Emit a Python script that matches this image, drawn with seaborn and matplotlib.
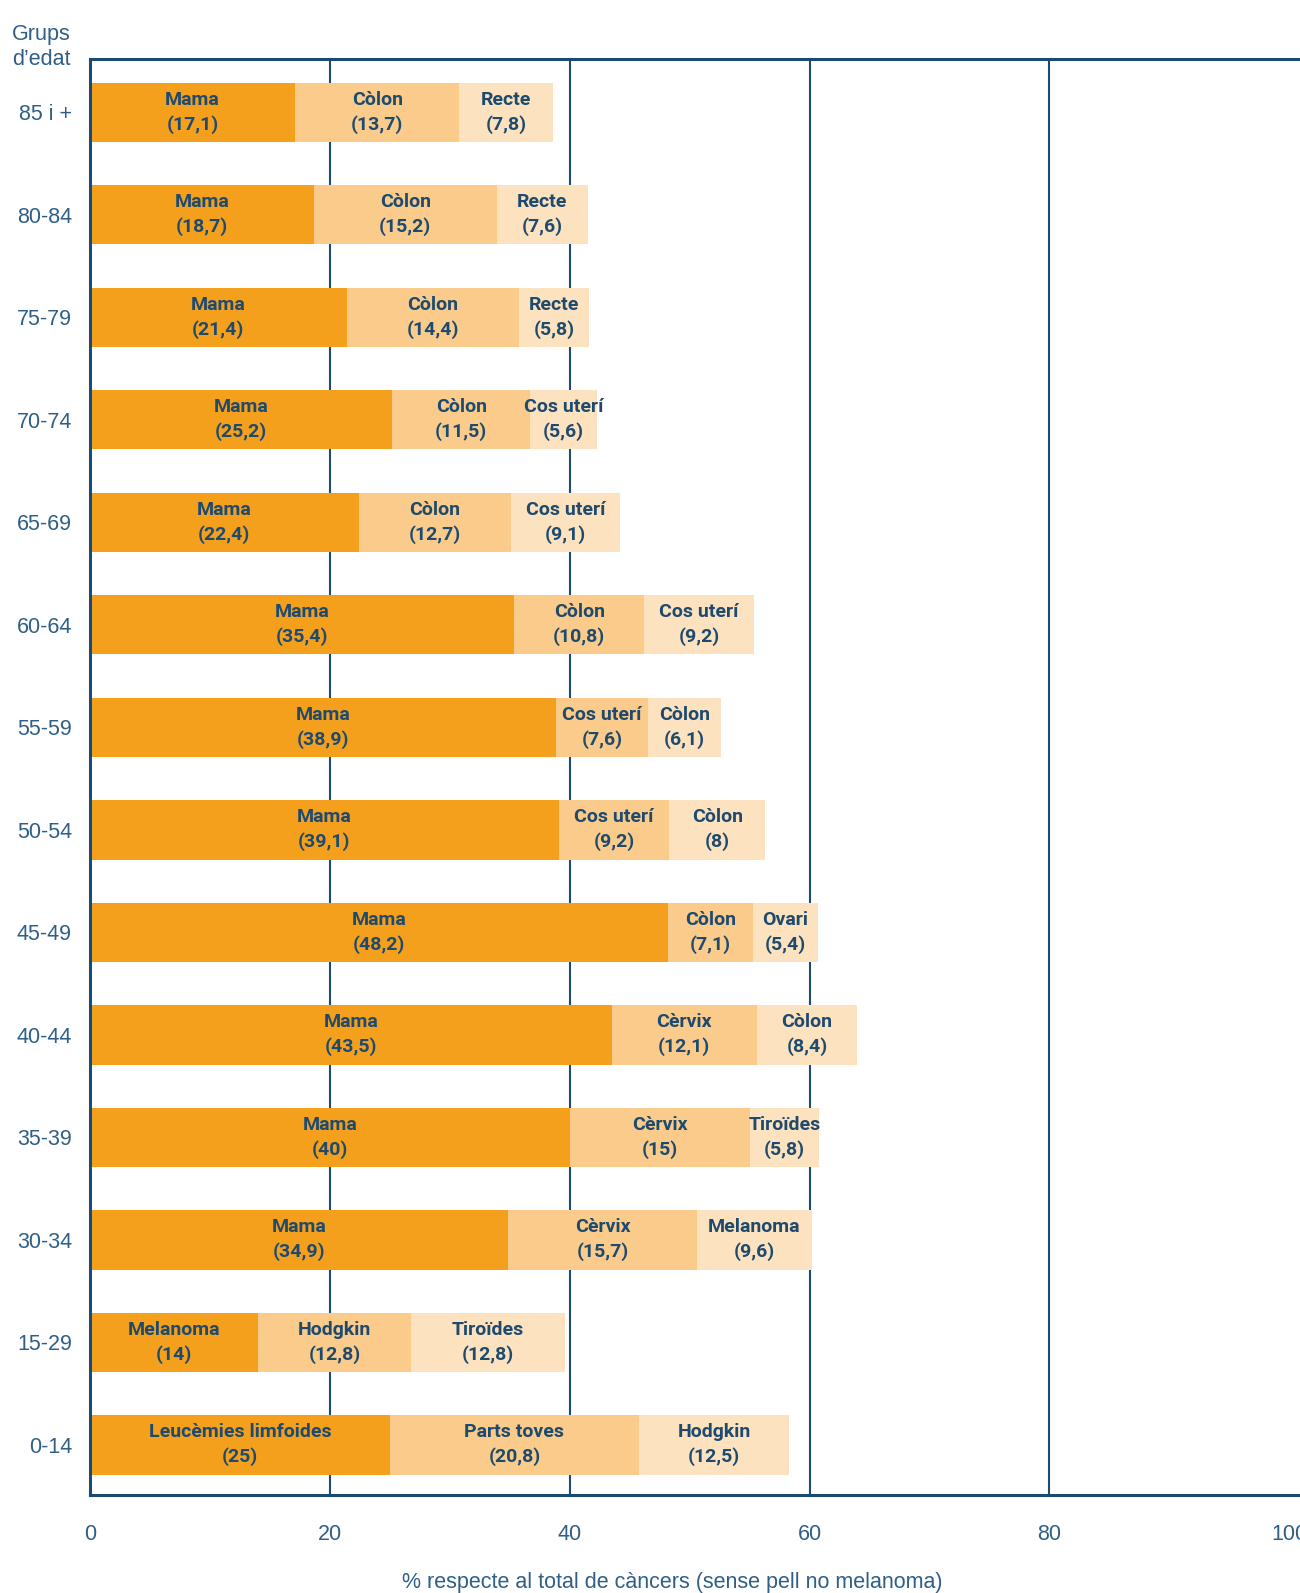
import numpy as np
import pandas as pd
import matplotlib
matplotlib.use('Agg')
import matplotlib.pyplot as plt
import seaborn as sns

# Age groups (top to bottom) and the three most frequent cancers per group
groups = ['85 i +', '80-84', '75-79', '70-74', '65-69', '60-64', '55-59',
          '50-54', '45-49', '40-44', '35-39', '30-34', '15-29', '0-14']

first_names = ['Mama', 'Mama', 'Mama', 'Mama', 'Mama', 'Mama', 'Mama',
               'Mama', 'Mama', 'Mama', 'Mama', 'Mama', 'Melanoma', 'Leucèmies limfoides']
first_vals = [17.1, 18.7, 21.4, 25.2, 22.4, 35.4, 38.9, 39.1, 48.2, 43.5, 40, 34.9, 14, 25]

second_names = ['Còlon', 'Còlon', 'Còlon', 'Còlon', 'Còlon', 'Còlon', 'Cos uterí',
                'Cos uterí', 'Còlon', 'Cèrvix', 'Cèrvix', 'Cèrvix', 'Hodgkin', 'Parts toves']
second_vals = [13.7, 15.2, 14.4, 11.5, 12.7, 10.8, 7.6, 9.2, 7.1, 12.1, 15, 15.7, 12.8, 20.8]

third_names = ['Recte', 'Recte', 'Recte', 'Cos uterí', 'Cos uterí', 'Cos uterí', 'Còlon',
               'Còlon', 'Ovari', 'Còlon', 'Tiroïdes', 'Melanoma', 'Tiroïdes', 'Hodgkin']
third_vals = [7.8, 7.6, 5.8, 5.6, 9.1, 9.2, 6.1, 8, 5.4, 8.4, 5.8, 9.6, 12.8, 12.5]

x_ticks = [0, 20, 40, 60, 80, 100]

# Colours
c1, c2, c3 = '#F5A01D', '#FACB8A', '#FDE2BF'
navy = '#1B4B72'
text_navy = '#1E4A6E'
tick_col = '#2F5F87'

sns.set_theme(style='white')
plt.rcParams['font.family'] = ['Liberation Sans', 'DejaVu Sans']

df = pd.DataFrame({'group': groups,
                   'v1': first_vals, 'v2': second_vals, 'v3': third_vals})
df['c2'] = df['v1'] + df['v2']
df['c3'] = df['c2'] + df['v3']

fig = plt.figure(figsize=(13, 15.93), dpi=100)
ax = fig.add_axes([0.0692, 0.0615, 0.9308, 0.9015])

# stacked bars: draw cumulative totals from the back to the front
bw = 0.58
for col, colr in [('c3', c3), ('c2', c2), ('v1', c1)]:
    sns.barplot(data=df, x=col, y='group', orient='h', color=colr,
                saturation=1, width=bw, ax=ax, zorder=2, linewidth=0)

# segment labels
label_font = ['Liberation Sans Narrow', 'Roboto', 'DejaVu Sans']
def fmt(v):
    return '({})'.format(f'{v:g}'.replace('.', ','))

for i in range(len(groups)):
    starts = [0, first_vals[i], first_vals[i] + second_vals[i]]
    vals = [first_vals[i], second_vals[i], third_vals[i]]
    names = [first_names[i], second_names[i], third_names[i]]
    for s, v, n in zip(starts, vals, names):
        ax.text(s + v / 2, i, f'{n}\n{fmt(v)}', ha='center', va='center',
                fontsize=14, fontweight='bold', color=text_navy,
                family=label_font, linespacing=1.4, zorder=3)

# vertical reference lines behind the bars
for xv in x_ticks[1:-1]:
    ax.axvline(xv, color=navy, lw=1.5, zorder=1)

ax.set_xlim(0, 100.9)
ax.set_ylim(len(groups) - 0.51, -0.52)
ax.set_xticks(x_ticks)
ax.set_xticklabels([str(t) for t in x_ticks], fontsize=15.5, color=tick_col)
ax.tick_params(axis='x', length=0, pad=21)
ax.tick_params(axis='y', length=0, pad=13, labelsize=15.5, labelcolor=tick_col)
ax.set_xlabel('')
ax.set_ylabel('')

for side in ['left', 'top', 'bottom']:
    ax.spines[side].set_color(navy)
    ax.spines[side].set_linewidth(2.2)
ax.spines['right'].set_visible(False)

fig.text(0.054, 0.9705, 'Grups\nd\u2019edat', ha='right', va='center',
         fontsize=15.5, color=tick_col, linespacing=1.3)
fig.text(0.5175, 0.0, '% respecte al total de càncers (sense pell no melanoma)',
         ha='center', va='bottom', fontsize=15.5, color=tick_col)

fig.savefig('out.png', dpi=100)
